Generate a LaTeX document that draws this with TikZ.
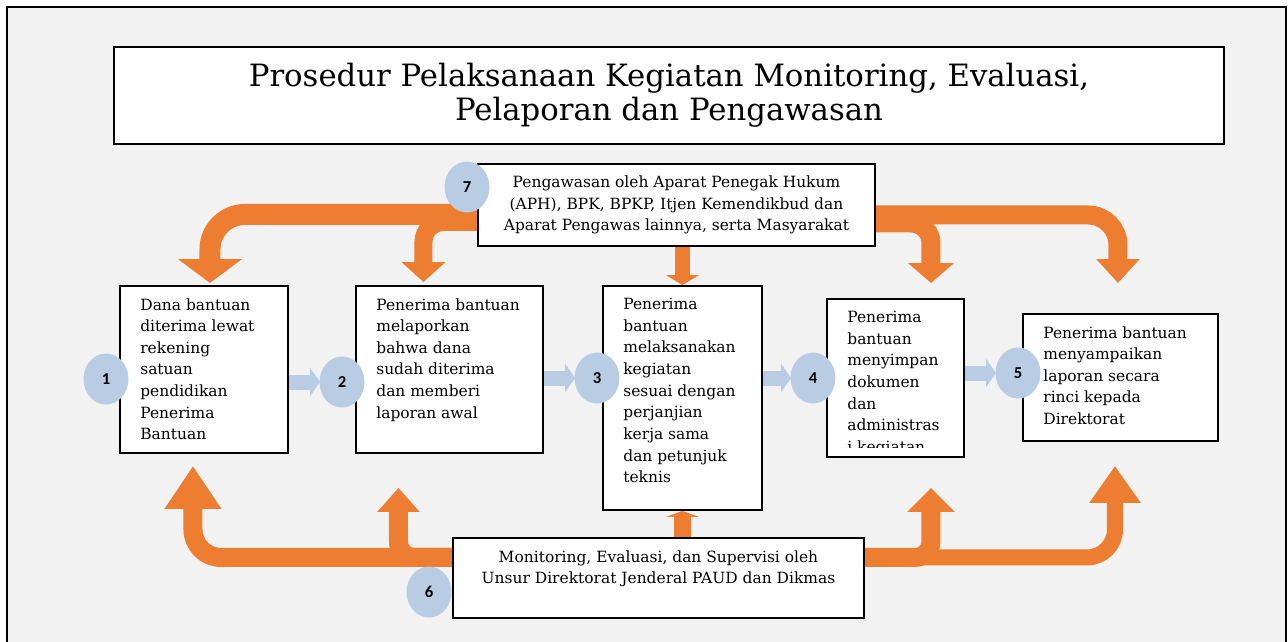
\documentclass[tikz,border=0pt]{standalone}
\usepackage{fontspec}
\setmainfont{DejaVu Serif}
\newfontfamily\angka{Carlito}
\usetikzlibrary{positioning, shapes.geometric, arrows.meta, backgrounds}
\newcommand{\pix}{*0.02cm}
\definecolor{latar}{RGB}{242,242,242}
\definecolor{oranye}{RGB}{237,125,49}
\definecolor{biru}{RGB}{184,204,228}

\begin{document}
\begin{tikzpicture}[x=0.02cm, y=-0.02cm,
    kotak/.style={draw, line width=1.1pt, fill=white, inner sep=0pt, anchor=north west},
    teks/.style={inner sep=0pt, align=left, anchor=north west, font=\fontsize{8.8}{12.3}\selectfont},
    nomor/.style={ellipse, fill=biru, inner sep=0pt, minimum width=45\pix, minimum height=51\pix, font=\angka\bfseries\fontsize{9.5}{10}\selectfont},
    panahbiru/.style={draw=biru, line width=15\pix, -{Triangle[length=0.2cm, width=0.56cm]}},
    panahoranye/.style={draw=oranye}]
    \clip (0,0) rectangle (1288,642);

    \node[kotak, minimum width=1110\pix, minimum height=97\pix, align=center, font=\fontsize{17.5}{19.5}\selectfont] (judul) at (113,46) {Prosedur Pelaksanaan Kegiatan Monitoring, Evaluasi,\\Pelaporan dan Pengawasan};

    \node[kotak, minimum width=397\pix, minimum height=82\pix, align=center, font=\fontsize{8.8}{12.2}\selectfont] (k7) at (477,163) {Pengawasan oleh Aparat Penegak Hukum\\(APH), BPK, BPKP, Itjen Kemendikbud dan\\Aparat Pengawas lainnya, serta Masyarakat};
    \node[kotak, minimum width=411\pix, minimum height=80\pix] (k6) at (452,537) {};
    \node[teks, anchor=north, align=center] (t6) at ([yshift=-13\pix]k6.north) {Monitoring, Evaluasi, dan Supervisi oleh\\Unsur Direktorat Jenderal PAUD dan Dikmas};

    \node[kotak, minimum width=168\pix, minimum height=167\pix] (k1) at (119,285) {};
    \node[kotak, minimum width=187\pix, minimum height=167\pix] (k2) at (355,285) {};
    \node[kotak, minimum width=159\pix, minimum height=224\pix] (k3) at (602,285) {};
    \node[kotak, minimum width=137\pix, minimum height=158\pix] (k4) at (826,298) {};
    \node[kotak, minimum width=195\pix, minimum height=127\pix] (k5) at (1022,313) {};

    \node[teks] (t1) at ([xshift=21\pix, yshift=-13\pix]k1.north west) {Dana bantuan\\diterima lewat\\rekening\\satuan\\pendidikan\\Penerima\\Bantuan};
    \node[teks] (t2) at ([xshift=21\pix, yshift=-13\pix]k2.north west) {Penerima bantuan\\melaporkan\\bahwa dana\\sudah diterima\\dan memberi\\laporan awal};
    \node[teks] (t3) at ([xshift=21\pix, yshift=-13\pix]k3.north west) {Penerima\\bantuan\\melaksanakan\\kegiatan\\sesuai dengan\\perjanjian\\kerja sama\\dan petunjuk\\teknis};
    \begin{scope}
        \clip (k4.north west) rectangle ([yshift=10\pix]k4.south east);
        \node[teks] (t4) at ([xshift=21\pix, yshift=-13\pix]k4.north west) {Penerima\\bantuan\\menyimpan\\dokumen\\dan\\administras\\i kegiatan};
    \end{scope}
    \node[teks] (t5) at ([xshift=21\pix, yshift=-13\pix]k5.north west) {Penerima bantuan\\menyampaikan\\laporan secara\\rinci kepada\\Direktorat};

    \begin{scope}[on background layer]
        \draw[line width=1.1pt, fill=latar] (7,7) rectangle (1286,670);
        % pengawasan ke bawah
        \draw[panahoranye, line width=21\pix, rounded corners=35\pix, -{Triangle[length=0.48cm, width=1.26cm]}] ([yshift=-9.5\pix]k7.west) -| ([xshift=6\pix, yshift=2\pix]k1.north);
        \draw[panahoranye, line width=18\pix, rounded corners=20\pix, -{Triangle[length=0.4cm, width=0.86cm]}] ([yshift=-17\pix]k7.west) -| ([xshift=-26\pix, yshift=3\pix]k2.north);
        \draw[panahoranye, line width=15\pix, -{Triangle[length=0.2cm, width=0.66cm]}] (k7.south -| k3.north) -- (k3.north);
        \draw[panahoranye, line width=19\pix, rounded corners=20\pix, -{Triangle[length=0.4cm, width=0.9cm]}] ([yshift=-18\pix]k7.east) -| ([xshift=35.5\pix, yshift=15\pix]k4.north);
        \draw[panahoranye, line width=19\pix, rounded corners=30\pix, -{Triangle[length=0.48cm, width=0.84cm]}] ([yshift=-10\pix]k7.east) -| ([xshift=-2.5\pix, yshift=30\pix]k5.north);
        % monitoring ke atas
        \draw[panahoranye, line width=19\pix, rounded corners=28\pix, -{Triangle[length=0.86cm, width=1.08cm]}] ([yshift=20.5\pix]k6.west) -| ([xshift=-11\pix, yshift=-12\pix]k1.south);
        \draw[panahoranye, line width=19\pix, rounded corners=16\pix, -{Triangle[length=0.48cm, width=0.82cm]}] ([yshift=20.5\pix]k6.west) -| ([xshift=-51\pix, yshift=-34\pix]k2.south);
        \draw[panahoranye, line width=17\pix, -{Triangle[length=0.12cm, width=0.66cm]}] (k6.north -| k3.south) -- (k3.south);
        \draw[panahoranye, line width=19\pix, rounded corners=16\pix, -{Triangle[length=0.48cm, width=0.92cm]}] ([yshift=20.5\pix]k6.east) -| ([xshift=35.5\pix, yshift=-30\pix]k4.south);
        \draw[panahoranye, line width=16\pix, rounded corners=28\pix, -{Triangle[length=0.74cm, width=0.98cm]}] ([yshift=20.5\pix]k6.east) -| ([xshift=-5.5\pix, yshift=-24\pix]k5.south);
    \end{scope}

    % langkah 1 sampai 5
    \coordinate (c2) at (342,382);
    \coordinate (c3) at (597,378);
    \coordinate (c4) at (813,378);
    \coordinate (c5) at (1018,373);
    \draw[panahbiru] (k1.east |- c2) -- ([xshift=-22\pix]c2);
    \draw[panahbiru] (k2.east |- c3) -- ([xshift=-22\pix]c3);
    \draw[panahbiru] (k3.east |- c4) -- ([xshift=-22\pix]c4);
    \draw[panahbiru] (k4.east |- c5) -- ([xshift=-22\pix]c5);

    \node[nomor] (n1) at (106,379) {1};
    \node[nomor] (n2) at (c2) {2};
    \node[nomor] (n3) at (c3) {3};
    \node[nomor] (n4) at (c4) {4};
    \node[nomor] (n5) at (c5) {5};
    \node[nomor] (n6) at (429,592) {6};
    \node[nomor] (n7) at (467,187) {7};
\end{tikzpicture}
\end{document}
